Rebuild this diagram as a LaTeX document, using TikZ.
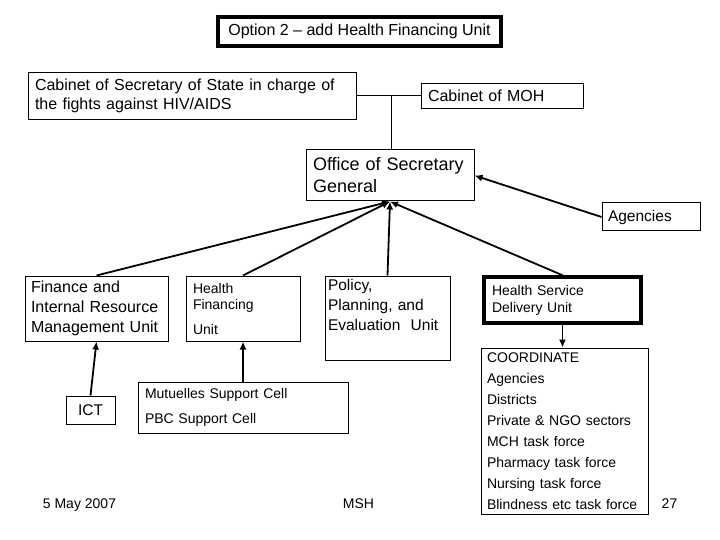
\documentclass[tikz,border=0pt]{standalone}
\usepackage{fontspec}
\setmainfont{Liberation Sans}
\usetikzlibrary{arrows.meta}
\newcommand\fsz[2]{\fontsize{#1}{#2}\selectfont}
\tikzset{
  box/.style={draw, line width=1pt, rectangle, inner xsep=6pt, inner ysep=0pt, align=left},
  conn/.style={line width=1pt},
  arr/.style={line width=1.8pt, -{Latex[length=8pt,width=7pt]}},
  plain/.style={inner sep=0pt, anchor=base}
}
\begin{document}
\begin{tikzpicture}[x=1pt,y=-1pt]
\useasboundingbox (0,0) rectangle (720,540);
% title
\node[box, line width=4pt, align=center, minimum width=283pt, minimum height=29pt, font=\fsz{16}{19}] (title) at (359.5,31.5) {Option 2 -- add Health Financing Unit};
% top row
\node[box, text width=314pt, minimum height=47pt, inner xsep=7pt, font=\fsz{16}{19}] (cabss) at (192,96) {Cabinet of Secretary of State in charge of\\the fights against HIV/AIDS};
\node[box, text width=148pt, minimum height=25pt, inner xsep=7pt, font=\fsz{16}{19}] (moh) at (502,96) {Cabinet of MOH};
\coordinate (j) at (391,96);
\draw[conn] (cabss.east) -- (moh.west);
\node[box, text width=154pt, minimum height=51pt, inner xsep=7pt, font=\fsz{18}{22}] (office) at (390,175.5) {Office of Secretary\\General};
\draw[conn] (j) -- (j |- office.north);
\node[box, text width=86pt, minimum height=28pt, font=\fsz{15.5}{19}] (agencies) at (651,217) {Agencies};
\draw[arr] (agencies.west) -- (office.east);
% units
\node[box, text width=131pt, minimum height=65pt, font=\fsz{16}{20}] (finance) at (96.5,308.5) {Finance and\\Internal Resource\\Management Unit};
\node[box, text width=100pt, minimum height=65pt, inner xsep=7pt, font=\fsz{14}{16}] (hf) at (243,308.5) {Health\\Financing\\[9pt]Unit};
\node[box, text width=119pt, minimum height=84pt, inner xsep=3pt, font=\fsz{15.5}{20}] (policy) at (387.5,318) {Policy,\\Planning, and\\Evaluation\ \ Unit\\\strut};
\node[box, line width=3.5pt, text width=141pt, minimum height=46pt, inner xsep=8pt, font=\fsz{14}{17}] (hsdu) at (562.5,300) {Health Service\\Delivery Unit\\[3pt]};
\draw[arr] (finance.north) -- (office.south);
\draw[arr] (hf.north) -- (office.south);
\draw[arr] (policy.north) -- (office.south);
\draw[arr] (hsdu.north) -- (office.south);
% lower boxes
\node[box, text width=155pt, minimum height=166pt, font=\fsz{14}{21}] (coord) at (564.5,431) {COORDINATE\\Agencies\\Districts\\Private \& NGO sectors\\MCH task force\\Pharmacy task force\\Nursing task force\\Blindness etc task force};
\draw[arr] (hsdu.south) -- (hsdu.south |- coord.north);
\node[box, align=center, minimum width=49pt, minimum height=28pt, inner xsep=0pt, font=\fsz{15.5}{18}] (ict) at (90.5,410) {ICT};
\draw[arr] (ict.north) -- (finance.south);
\node[box, text width=196pt, minimum height=51pt, inner xsep=7pt, font=\fsz{14}{25}] (mut) at (243,407.5) {Mutuelles Support Cell\\PBC Support Cell};
\draw[arr] (mut.north) -- (hf.south);
% footer
\node[plain, font=\fsz{14}{17}] (date) at (79.5,508) {5 May 2007};
\node[plain, font=\fsz{14}{17}] (msh) at (358.5,508) {MSH};
\node[plain, font=\fsz{14}{17}] (page) at (669.5,508) {27};
\end{tikzpicture}
\end{document}
